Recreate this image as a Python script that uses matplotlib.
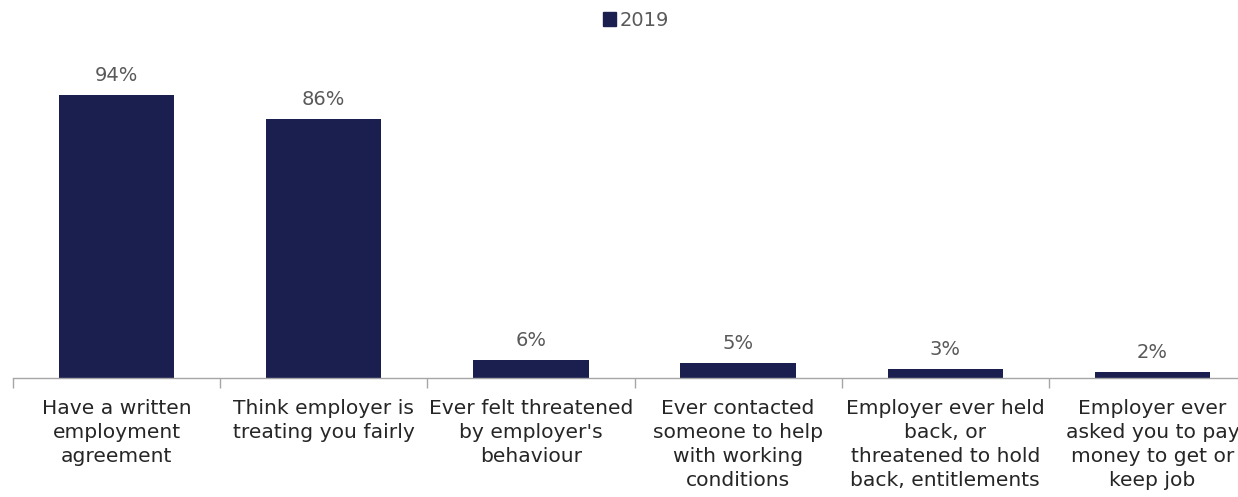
import matplotlib

matplotlib.use('Agg')
import matplotlib.pyplot as plt
from matplotlib.patches import Patch

categories = [
    "Have a written\nemployment\nagreement",
    "Think employer is\ntreating you fairly",
    "Ever felt threatened\nby employer's\nbehaviour",
    "Ever contacted\nsomeone to help\nwith working\nconditions",
    "Employer ever held\nback, or\nthreatened to hold\nback, entitlements",
    "Employer ever\nasked you to pay\nmoney to get or\nkeep job",
]
values_2019 = [94, 86, 6, 5, 3, 2]
series_name = "2019"

bar_color = "#1b1f4f"
text_color = "#262626"
label_color = "#595959"

plt.rcParams['font.family'] = ['DejaVu Sans']

W, H = 1238, 497
fig = plt.figure(figsize=(W / 100, H / 100), dpi=100)
# plot area runs slightly past the right edge of the figure
ax = fig.add_axes([13 / W, (H - 378) / H, 1243 / W, 301 / H])

x = list(range(len(categories)))
bars = ax.bar(x, values_2019, width=0.556, color=bar_color, label=series_name)

for rect, v in zip(bars, values_2019):
    ax.text(rect.get_x() + rect.get_width() / 2, v + 3.4, f"{v}%",
            ha='center', va='bottom', fontsize=14, color=label_color)

ax.set_xlim(-0.5, len(categories) - 0.5)
ax.set_ylim(0, 100)
ax.set_yticks([])
for side in ['top', 'right', 'left']:
    ax.spines[side].set_visible(False)
ax.spines['bottom'].set_color('#a6a6a6')
ax.spines['bottom'].set_linewidth(1.0)

# category labels centred under each bar, tick marks between categories
ax.set_xticks(x)
ax.set_xticklabels(categories, fontsize=14.6, color=text_color, linespacing=1.33)
ax.tick_params(axis='x', which='major', length=0, pad=15)
ax.set_xticks([i - 0.5 for i in range(len(categories) + 1)], minor=True)
ax.tick_params(axis='x', which='minor', length=7, color='#a6a6a6', width=1.0)

fig.legend(handles=[Patch(color=bar_color, label=series_name)],
           loc='center', bbox_to_anchor=(636 / W, 1 - 20 / H), frameon=False,
           fontsize=14, handlelength=0.7, handleheight=0.7, handletextpad=0.2,
           labelcolor=label_color)

fig.savefig("out.png", dpi=100)
